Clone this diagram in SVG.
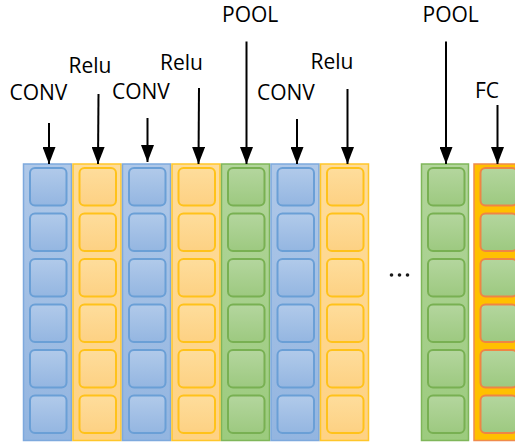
<svg xmlns="http://www.w3.org/2000/svg" width="515" height="445" viewBox="0 0 515 445">
  <defs>
    <linearGradient id="gBlueCol" x1="0" y1="0" x2="0" y2="1">
      <stop offset="0" stop-color="#afc8e8"/>
      <stop offset="1" stop-color="#93b5e0"/>
    </linearGradient>
    <linearGradient id="gBlueCell" x1="0" y1="0" x2="0" y2="1">
      <stop offset="0" stop-color="#b1caea"/>
      <stop offset="1" stop-color="#94b6e1"/>
    </linearGradient>
    <linearGradient id="gYelCol" x1="0" y1="0" x2="0" y2="1">
      <stop offset="0" stop-color="#fedc99"/>
      <stop offset="1" stop-color="#fed284"/>
    </linearGradient>
    <linearGradient id="gYelCell" x1="0" y1="0" x2="0" y2="1">
      <stop offset="0" stop-color="#fedd9c"/>
      <stop offset="1" stop-color="#fdd183"/>
    </linearGradient>
    <linearGradient id="gGrnCol" x1="0" y1="0" x2="0" y2="1">
      <stop offset="0" stop-color="#b2d59b"/>
      <stop offset="1" stop-color="#9ccb7e"/>
    </linearGradient>
    <linearGradient id="gGrnCell" x1="0" y1="0" x2="0" y2="1">
      <stop offset="0" stop-color="#b4d69e"/>
      <stop offset="1" stop-color="#9dc980"/>
    </linearGradient>
    <marker id="head" markerWidth="17" markerHeight="13" refX="17" refY="6.5" orient="auto" markerUnits="userSpaceOnUse">
      <path d="M0,0 L17,6.5 L0,13 Z" fill="#000"/>
    </marker>
    <!-- one stack of six cells, reused by every layer column -->
    <g id="cells">
      <rect x="6.5" y="4" width="36.5" height="37.5" rx="5"/>
      <rect x="6.5" y="49.5" width="36.5" height="37.5" rx="5"/>
      <rect x="6.5" y="95" width="36.5" height="37.5" rx="5"/>
      <rect x="6.5" y="140.5" width="36.5" height="37.5" rx="5"/>
      <rect x="6.5" y="186" width="36.5" height="37.5" rx="5"/>
      <rect x="6.5" y="231.5" width="36.5" height="37.5" rx="5"/>
    </g>
  </defs>
  <style>
    .lbl { font-family: "Open Sans", "Liberation Sans", sans-serif; font-size: 21px; fill: #000; }
    .col { stroke-width: 1.5; }
    .blue .col { fill: url(#gBlueCol); stroke: #7ea9dd; }
    .blue .cell { fill: url(#gBlueCell); stroke: #6a9fd6; stroke-width: 2; }
    .yel .col { fill: url(#gYelCol); stroke: #ffc62a; }
    .yel .cell { fill: url(#gYelCell); stroke: #ffc21a; stroke-width: 2; }
    .grn .col { fill: url(#gGrnCol); stroke: #7fb65a; }
    .grn .cell { fill: url(#gGrnCell); stroke: #78b052; stroke-width: 2; }
    .fc .col { fill: #ffc000; stroke: #f08a4b; }
    .fc .cell { fill: url(#gGrnCell); stroke: #ee8545; stroke-width: 2; }
    .arrow { stroke: #000; stroke-width: 2; fill: none; marker-end: url(#head); }
  </style>

  <rect width="515" height="445" fill="#fff"/>

  <!-- layer columns -->
  <g id="conv1" class="blue" transform="translate(23.5,164)">
    <rect class="col" width="48" height="276.5"/>
    <use href="#cells" class="cell"/>
  </g>
  <g id="relu1" class="yel" transform="translate(73,164)">
    <rect class="col" width="48" height="276.5"/>
    <use href="#cells" class="cell"/>
  </g>
  <g id="conv2" class="blue" transform="translate(122.5,164)">
    <rect class="col" width="48" height="276.5"/>
    <use href="#cells" class="cell"/>
  </g>
  <g id="relu2" class="yel" transform="translate(172,164)">
    <rect class="col" width="48" height="276.5"/>
    <use href="#cells" class="cell"/>
  </g>
  <g id="pool1" class="grn" transform="translate(221.5,164)">
    <rect class="col" width="48" height="276.5"/>
    <use href="#cells" class="cell"/>
  </g>
  <g id="conv3" class="blue" transform="translate(271,164)">
    <rect class="col" width="48" height="276.5"/>
    <use href="#cells" class="cell"/>
  </g>
  <g id="relu3" class="yel" transform="translate(320.5,164)">
    <rect class="col" width="48" height="276.5"/>
    <use href="#cells" class="cell"/>
  </g>
  <g id="pool2" class="grn" transform="translate(421.5,164)">
    <rect class="col" width="47" height="276.5"/>
    <use href="#cells" class="cell"/>
  </g>
  <g id="fc" class="fc" transform="translate(474,164)">
    <rect class="col" width="48" height="276.5"/>
    <use href="#cells" class="cell"/>
  </g>

  <!-- ellipsis between layers -->
  <g id="ellipsis" fill="#1a1a1a">
    <circle cx="391.5" cy="275" r="1.8"/>
    <circle cx="399.5" cy="275" r="1.8"/>
    <circle cx="407.5" cy="275" r="1.8"/>
  </g>

  <!-- connectors -->
  <g id="connectors">
    <line class="arrow" x1="49" y1="123" x2="49" y2="164"/>
    <line class="arrow" x1="98.5" y1="94" x2="98" y2="164"/>
    <line class="arrow" x1="147.5" y1="118" x2="147.5" y2="162"/>
    <line class="arrow" x1="199" y1="88" x2="198.5" y2="164"/>
    <line class="arrow" x1="246.5" y1="41.5" x2="246.5" y2="164"/>
    <line class="arrow" x1="297" y1="119" x2="297" y2="164"/>
    <line class="arrow" x1="347.5" y1="89" x2="347.5" y2="164"/>
    <line class="arrow" x1="446" y1="41.5" x2="446" y2="164"/>
    <line class="arrow" x1="497.5" y1="105" x2="497.5" y2="164"/>
  </g>

  <!-- labels -->
  <g id="labels">
    <text class="lbl" x="9.5" y="100">CONV</text>
    <text class="lbl" x="68.5" y="72.5">Relu</text>
    <text class="lbl" x="112" y="99">CONV</text>
    <text class="lbl" x="160" y="69.5">Relu</text>
    <text class="lbl" x="222" y="21.5">POOL</text>
    <text class="lbl" x="257" y="100">CONV</text>
    <text class="lbl" x="310.5" y="68.5">Relu</text>
    <text class="lbl" x="422.5" y="21.5">POOL</text>
    <text class="lbl" x="475" y="97.5">FC</text>
  </g>
</svg>
